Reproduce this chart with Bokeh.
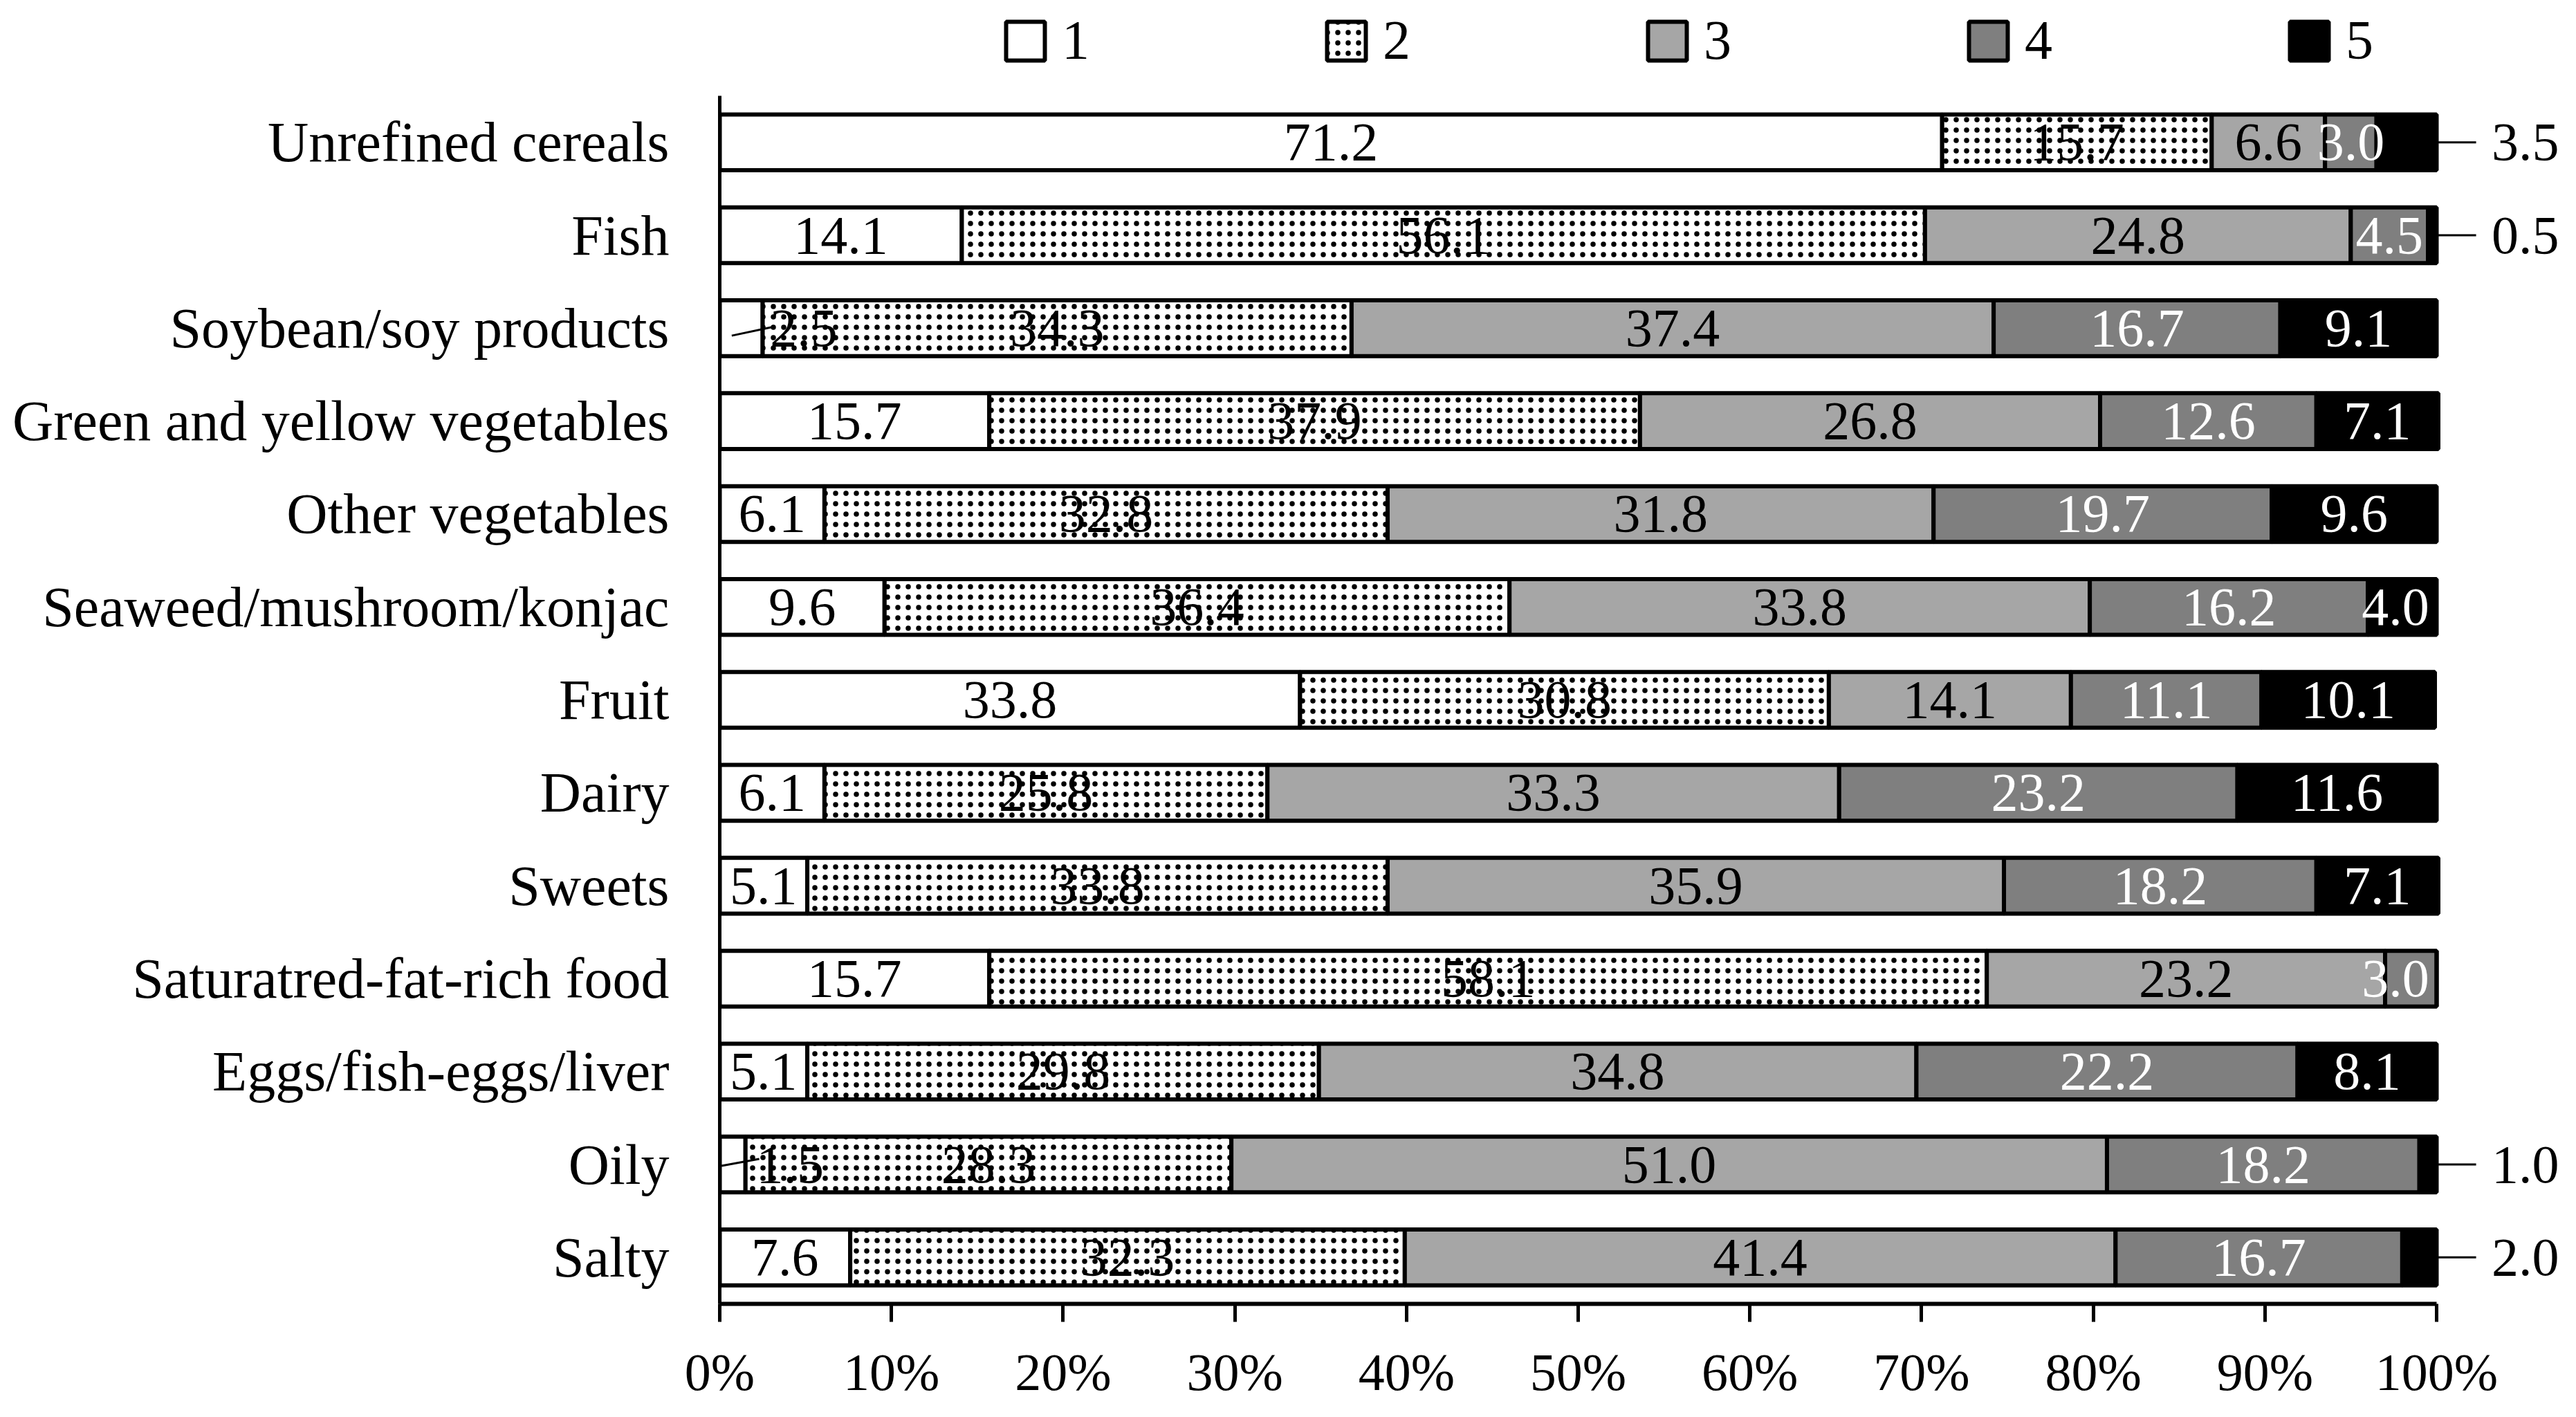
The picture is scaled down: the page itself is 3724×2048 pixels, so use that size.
from bokeh.plotting import figure
from bokeh.models import (ColumnDataSource, Range1d, FixedTicker, Legend, LegendItem)
from bokeh.core.properties import value
from bokeh.embed import file_html
from bokeh.resources import INLINE

# ---------------- data ----------------
categories = ["Unrefined cereals", "Fish", "Soybean/soy products",
              "Green and yellow vegetables", "Other vegetables",
              "Seaweed/mushroom/konjac", "Fruit", "Dairy", "Sweets",
              "Saturatred-fat-rich food", "Eggs/fish-eggs/liver", "Oily", "Salty"]
levels = ["1", "2", "3", "4", "5"]
s1 = [71.2, 14.1, 2.5, 15.7, 6.1, 9.6, 33.8, 6.1, 5.1, 15.7, 5.1, 1.5, 7.6]
s2 = [15.7, 56.1, 34.3, 37.9, 32.8, 36.4, 30.8, 25.8, 33.8, 58.1, 29.8, 28.3, 32.3]
s3 = [6.6, 24.8, 37.4, 26.8, 31.8, 33.8, 14.1, 33.3, 35.9, 23.2, 34.8, 51.0, 41.4]
s4 = [3.0, 4.5, 16.7, 12.6, 19.7, 16.2, 11.1, 23.2, 18.2, 3.0, 22.2, 18.2, 16.7]
s5 = [3.5, 0.5, 9.1, 7.1, 9.6, 4.0, 10.1, 11.6, 7.1, 0.0, 8.1, 1.0, 2.0]
x_ticks = [0, 10, 20, 30, 40, 50, 60, 70, 80, 90, 100]
x_tick_labels = ["0%", "10%", "20%", "30%", "40%", "50%", "60%", "70%", "80%", "90%", "100%"]
series = [s1, s2, s3, s4, s5]

# ---------------- style / layout ----------------
FONT = "Liberation Serif"
fills = ["white", "white", "#a6a6a6", "#7f7f7f", "black"]
hatches = [None, "dot", None, None, None]
label_colors = ["black", "black", "black", "white", "white"]
W, H = 3708, 2032
frame_left = 1040
bottom_border = 148
row_px = 134.3
px_per_pct = 24.82
frame_h = H - bottom_border
x_end = (W - frame_left) / px_per_pct

# labels drawn outside the bar on the right (row, series)
outside_right = [(0, 4), (1, 4), (11, 4), (12, 4)]
# small left labels with a leader line: (row, series) -> (text x, x0, dy0, x1, dy1)
left_leaders = {(2, 0): (4.9, 0.7, 0.08, 3.0, -0.01),
                (11, 0): (4.1, 0.1, 0.015, 2.3, -0.06)}

p = figure(width=W, height=H, output_backend="svg", toolbar_location=None,
           x_range=Range1d(0, x_end),
           y_range=Range1d(12.5, 12.5 - frame_h / row_px),
           min_border_left=frame_left, min_border_right=0,
           min_border_top=0, min_border_bottom=bottom_border)
p.outline_line_color = None
p.xgrid.visible = False
p.ygrid.visible = False
p.background_fill_color = "white"

ys = list(range(len(categories)))
left = [0.0] * len(categories)
renderers = []
lab_x, lab_y, lab_t, lab_c = [], [], [], []
rx, ry, rt = [], [], []
lx0, ly0, lx1, ly1 = [], [], [], []
for k, s in enumerate(series):
    right = [l + v for l, v in zip(left, s)]
    src = ColumnDataSource(dict(y=ys, left=left, right=right))
    kw = dict(fill_color=fills[k], line_color="black", line_width=6)
    if hatches[k]:
        kw.update(hatch_pattern=hatches[k], hatch_color="black",
                  hatch_scale=15, hatch_weight=1.5)
    r = p.hbar(y="y", left="left", right="right", height=0.6, source=src, **kw)
    renderers.append(r)
    for i, v in enumerate(s):
        if v <= 0:
            continue
        txt = f"{v:.1f}"
        if (i, k) in outside_right:
            rx.append(100 + 3.2); ry.append(i); rt.append(txt)
            lx0.append(100); ly0.append(i); lx1.append(102.3); ly1.append(i)
            continue
        if (i, k) in left_leaders:
            tx, a0, d0, a1, d1 = left_leaders[(i, k)]
            lab_x.append(tx); lab_y.append(i); lab_t.append(txt); lab_c.append(label_colors[k])
            lx0.append(a0); ly0.append(i + d0); lx1.append(a1); ly1.append(i + d1)
            continue
        cx = min((left[i] + right[i]) / 2, 97.6)
        lab_x.append(cx); lab_y.append(i); lab_t.append(txt); lab_c.append(label_colors[k])
    left = right

p.segment(x0="x0", y0="y0", x1="x1", y1="y1",
          source=ColumnDataSource(dict(x0=lx0, y0=ly0, x1=lx1, y1=ly1)),
          line_color="black", line_width=3)

p.text(x="x", y="y", text="t", text_color="c",
       source=ColumnDataSource(dict(x=lab_x, y=lab_y, t=lab_t, c=lab_c)),
       text_align="center", text_baseline="middle",
       text_font=value(FONT), text_font_size=value("78px"))
p.text(x="x", y="y", text="t",
       source=ColumnDataSource(dict(x=rx, y=ry, t=rt)),
       text_align="left", text_baseline="middle", text_color="black",
       text_font=value(FONT), text_font_size=value("78px"))

# axes
xa = p.xaxis[0]
xa.ticker = FixedTicker(ticks=x_ticks)
xa.major_label_overrides = {t: l for t, l in zip(x_ticks, x_tick_labels)}
xa.bounds = (0, 100)
xa.axis_line_width = 6
xa.major_tick_line_width = 5
xa.major_tick_out = 26
xa.major_tick_in = 0
xa.minor_tick_out = 0
xa.minor_tick_in = 0
xa.major_label_standoff = 30
xa.major_label_text_font = FONT
xa.major_label_text_font_size = "76px"
xa.major_label_text_color = "black"

ya = p.yaxis[0]
ya.ticker = FixedTicker(ticks=ys)
ya.major_label_overrides = {i: c for i, c in zip(ys, categories)}
ya.bounds = (-0.5, 12.5)
ya.axis_line_width = 5
ya.major_tick_out = 0
ya.major_tick_in = 0
ya.minor_tick_out = 0
ya.minor_tick_in = 0
ya.major_label_standoff = 73
ya.major_label_text_font = FONT
ya.major_label_text_font_size = "82px"
ya.major_label_text_color = "black"

legend = Legend(items=[LegendItem(label=lv, renderers=[r]) for lv, r in zip(levels, renderers)],
                orientation="horizontal", location=(407, frame_h - 104),
                glyph_width=70, glyph_height=70, label_standoff=18, spacing=336,
                padding=0, margin=0, border_line_color=None, background_fill_alpha=0,
                label_text_font=FONT, label_text_font_size="80px",
                label_text_color="black")
p.add_layout(legend)

open("out.html", "w").write(file_html(p, INLINE))
